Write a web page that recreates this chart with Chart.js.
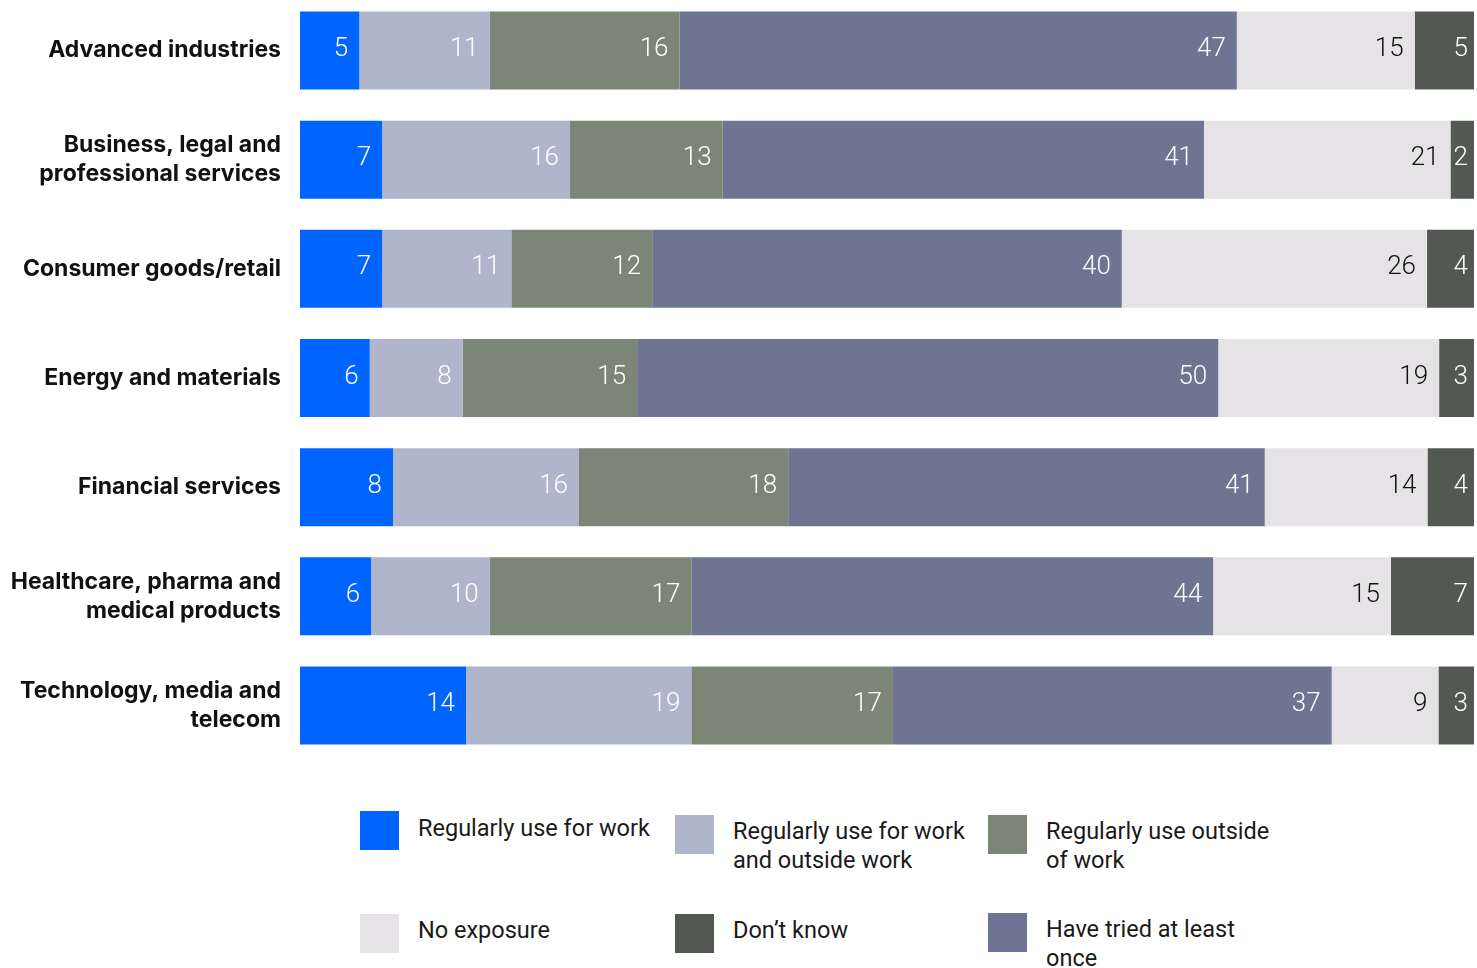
<!DOCTYPE html>
<html>
<head>
<meta charset="utf-8">
<script src="https://cdn.jsdelivr.net/npm/chart.js@4"></script>
<style>
  body { margin: 0; background: #fff; width: 1477px; height: 968px; overflow: hidden; position: relative; font-family: Roboto, "Noto Sans", sans-serif; }
  #wrap { position: absolute; left: 0; top: -4px; width: 1474px; height: 764px; }
  .item { position: absolute; font-size: 23.5px; line-height: 29px; color: #1a1a1a; white-space: pre; }
  .sw { position: absolute; width: 39px; height: 39px; }
</style>
</head>
<body>
<div id="wrap"><canvas id="myChart" width="1474" height="764"></canvas></div>
<div id="legend"></div>
<script>
const categories = [
  'Advanced industries',
  ['Business, legal and', 'professional services'],
  'Consumer goods/retail',
  'Energy and materials',
  'Financial services',
  ['Healthcare, pharma and', 'medical products'],
  ['Technology, media and', 'telecom']
];

const seriesNames = [
  'Regularly use for work',
  'Regularly use for work and outside work',
  'Regularly use outside of work',
  'Have tried at least once',
  'No exposure',
  "Don't know"
];

// % of respondents, as printed on the bars
const regularlyWork      = [5, 7, 7, 6, 8, 6, 14];
const regularlyBoth      = [11, 16, 11, 8, 16, 10, 19];
const regularlyOutside   = [16, 13, 12, 15, 18, 17, 17];
const triedOnce          = [47, 41, 40, 50, 41, 44, 37];
const noExposure         = [15, 21, 26, 19, 14, 15, 9];
const dontKnow           = [5, 2, 4, 3, 4, 7, 3];

const seriesValues = [regularlyWork, regularlyBoth, regularlyOutside, triedOnce, noExposure, dontKnow];
const colors = ['#0065ff', '#afb5ca', '#7c8677', '#6d7592', '#e5e3e5', '#535853'];
const labelColors = ['#fff', '#fff', '#fff', '#fff', '#111', '#fff'];

// rows are drawn full width (printed values are rounded)
const rowTotals = categories.map((c, i) => seriesValues.reduce((s, arr) => s + arr[i], 0));

const datasets = seriesValues.map((vals, k) => ({
  label: seriesNames[k],
  values: vals,
  data: vals.map((v, i) => v / rowTotals[i] * 100),
  backgroundColor: colors[k],
  borderWidth: 0,
  barPercentage: 0.7145,
  categoryPercentage: 1
}));

const valueLabels = {
  id: 'valueLabels',
  afterDatasetsDraw(chart) {
    const ctx = chart.ctx;
    ctx.save();
    ctx.font = '300 26px Roboto';
    ctx.textAlign = 'right';
    ctx.textBaseline = 'middle';
    const last = chart.data.datasets.length - 1;
    chart.data.datasets.forEach((ds, di) => {
      chart.getDatasetMeta(di).data.forEach((bar, i) => {
        ctx.fillStyle = labelColors[di];
        const pad = di === last ? 6 : 11;
        ctx.fillText(String(ds.values[i]), bar.x - pad, bar.y - 1);
      });
    });
    ctx.restore();
  }
};

const ctx = document.getElementById('myChart').getContext('2d');
new Chart(ctx, {
  type: 'bar',
  data: { labels: categories, datasets: datasets },
  options: {
    indexAxis: 'y',
    responsive: false,
    animation: false,
    layout: { padding: 0 },
    plugins: { legend: { display: false }, tooltip: { enabled: false } },
    scales: {
      x: { stacked: true, min: 0, max: 100, display: false },
      y: {
        stacked: true,
        grid: { display: false, drawTicks: false },
        border: { display: false },
        ticks: {
          padding: 19,
          color: '#111',
          font: { family: 'Inter', size: 23, weight: 'bold', lineHeight: 1.26 }
        },
        afterFit(scale) {
          scale.width = 300;
          scale.paddingTop = 0;
          scale.paddingBottom = 0;
        }
      }
    }
  },
  plugins: [valueLabels]
});

// legend laid out in a 3 x 2 grid
const legendText = [
  'Regularly use for work',
  'Regularly use for work\nand outside work',
  'Regularly use outside\nof work',
  'Have tried at least\nonce',
  'No exposure',
  "Don\u2019t know"
];
const legendPos = [
  { k: 0, x: 360, y: 811, ty: 814 },
  { k: 1, x: 675, y: 815, ty: 817 },
  { k: 2, x: 988, y: 815, ty: 817 },
  { k: 4, x: 360, y: 914, ty: 916 },
  { k: 5, x: 675, y: 914, ty: 916 },
  { k: 3, x: 988, y: 913, ty: 915 }
];
const legend = document.getElementById('legend');
legendPos.forEach(p => {
  const sw = document.createElement('div');
  sw.className = 'sw';
  sw.style.left = p.x + 'px';
  sw.style.top = p.y + 'px';
  sw.style.background = colors[p.k];
  legend.appendChild(sw);
  const t = document.createElement('div');
  t.className = 'item';
  t.style.left = (p.x + 58) + 'px';
  t.style.top = p.ty + 'px';
  t.textContent = legendText[p.k];
  legend.appendChild(t);
});
</script>
</body>
</html>
